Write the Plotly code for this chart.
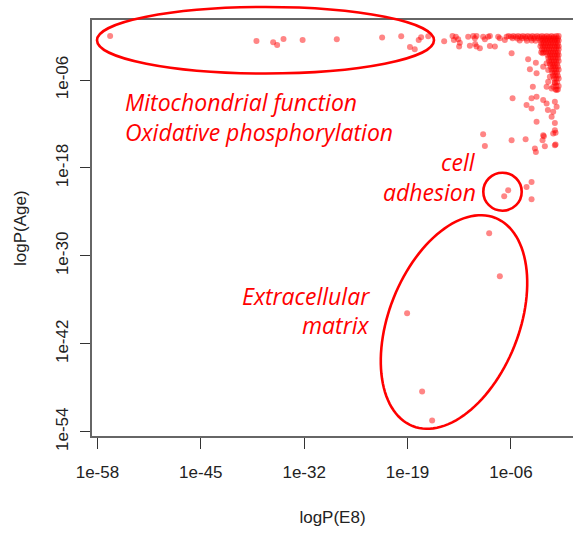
import numpy as np
import plotly.graph_objects as go

# ---------------- data (log10 p-values) ----------------
x_tick_labels = ["1e-58", "1e-45", "1e-32", "1e-19", "1e-06"]
x_tick_logs = [-58, -45, -32, -19, -6]
y_tick_labels = ["1e-54", "1e-42", "1e-30", "1e-18", "1e-06"]
y_tick_logs = [-54, -42, -30, -18, -6]

# top row: mitochondrial function / oxidative phosphorylation
top_e8 = [-56.4, -38.0, -35.9, -35.4, -34.6, -32.2, -27.9, -22.2, -19.8, -18.7, -18.1, -17.6, -17.3, -16.4]
top_age = [0.0, -0.66, -0.84, -1.21, -0.39, -0.53, -0.43, -0.21, -0.02, -1.49, -1.81, -0.53, -0.16, -0.02]

# row of points continuing to the right along the top
row_e8 = [-14.4, -13.35, -12.93, -13.18, -12.64, -12.43, -12.52, -11.38, -11.17, -10.75,
          -10.54, -10.33, -10.5, -10.33, -9.91, -9.5, -9.28, -8.87, -8.65, -8.65,
          -8.02, -7.61, -7.4, -6.77, -6.55]
row_age = [-0.71, 0.0, -0.08, -0.53, -0.43, -0.9, -1.44, -0.08, -1.31, 0.0,
           -0.3, 0.0, -1.08, -1.44, -1.66, -0.08, -0.43, -0.08, 0.0, -1.35,
           -1.44, -0.08, -0.3, -0.53, -0.08]

# scattered points in the upper-right region
mid_e8 = [-5.92, -3.84, -3.62, -2.87, -2.78, -2.03, -1.95, -1.52, -1.32, -1.11,
          -1.52, -1.32, -0.89, -0.69, -0.26, -0.48, -5.80, -3.25, -3.41, -2.78,
          -4.04, -3.41, -1.95, -1.52, -1.36, -0.48, -0.26, -0.69, -0.89, -2.78,
          -0.48, -0.48, -0.69, -9.50, -9.28, -5.92, -4.16, -1.95, -1.86, -2.03,
          -1.74, -0.39, -0.39, -2.87, -2.99, -0.48, -3.41, -4.04, -3.41]
mid_age = [-2.35, -3.17, -4.54, -3.63, -5.08, -2.35, -4.18, -3.72, -4.63, -5.55,
           -6.92, -6.23, -7.14, -6.92, -7.37, -6.45, -8.50, -6.92, -8.50, -8.28,
           -9.42, -9.87, -8.74, -9.19, -10.10, -8.97, -9.65, -10.34, -11.02, -11.70,
           -11.88, -12.84, -13.29, -13.39, -14.99, -14.21, -14.07, -13.52, -13.66, -14.21,
           -15.03, -13.21, -14.80, -15.81, -15.34, -14.89, -19.91, -20.60, -22.28]

# cell adhesion
adh_e8 = [-6.35, -6.85]
adh_age = [-21.05, -21.87]

# extracellular matrix
ecm_e8 = [-8.74, -7.40, -19.06, -17.17, -15.91]
ecm_age = [-26.89, -32.77, -37.83, -48.50, -52.47]

# dense cluster near p = 1 (top-right corner)
dense_e8 = [
    -6.3, -6.0, -5.7, -5.4, -5.1, -4.8, -4.5, -4.2, -3.9, -3.6, -3.3, -3.0, -2.7, -2.4, -2.1, -1.8, -1.5, -1.2, -0.9, -0.6, -0.3, 0.0,
    -5.8, -5.2, -4.6, -4.1, -3.5, -3.1, -2.6, -2.2, -1.9, -1.6, -1.3, -1.0, -0.7, -0.4, -0.1,
    -4.9, -4.0, -3.4, -2.9, -2.3, -2.0, -1.7, -1.4, -1.1, -0.8, -0.5, -0.2, 0.0,
    -2.2, -1.9, -1.6, -1.3, -1.0, -0.7, -0.4, -0.1,
    -2.3, -2.0, -1.7, -1.4, -1.1, -0.8, -0.5, -0.2, 0.0,
    -2.1, -1.8, -1.5, -1.2, -0.9, -0.6, -0.3, 0.0,
    -2.2, -1.9, -1.6, -1.3, -1.0, -0.7, -0.4, -0.1,
    -1.4, -1.1, -0.8, -0.5, -0.2, 0.0,
    -1.3, -1.0, -0.7, -0.4, -0.1,
    -1.2, -0.9, -0.6, -0.3, 0.0,
    -1.1, -0.8, -0.5, -0.2,
    -1.0, -0.7, -0.4, -0.1,
    -0.9, -0.6, -0.3, 0.0,
    -0.8, -0.5, -0.2,
    -0.7, -0.4, -0.1,
    -0.6, -0.3, 0.0,
    -0.5, -0.2,
    -0.3, 0.0,
    -0.4, -0.1,
]
dense_age = [
    0.0, -0.1, 0.0, -0.1, 0.0, -0.1, 0.0, -0.1, 0.0, -0.1, 0.0, -0.1, 0.0, -0.1, 0.0, -0.1, 0.0, -0.1, 0.0, -0.1, 0.0, 0.0,
    -0.3, -0.35, -0.3, -0.35, -0.3, -0.35, -0.3, -0.35, -0.3, -0.35, -0.3, -0.35, -0.3, -0.35, -0.3,
    -0.6, -0.65, -0.6, -0.65, -0.6, -0.65, -0.6, -0.65, -0.6, -0.65, -0.6, -0.65, -0.6,
    -1.0, -1.0, -1.0, -1.0, -1.0, -1.0, -1.0, -1.0,
    -1.4, -1.4, -1.4, -1.4, -1.4, -1.4, -1.4, -1.4, -1.4,
    -1.8, -1.8, -1.8, -1.8, -1.8, -1.8, -1.8, -1.8,
    -2.2, -2.2, -2.2, -2.2, -2.2, -2.2, -2.2, -2.2,
    -2.6, -2.6, -2.6, -2.6, -2.6, -2.6,
    -3.0, -3.0, -3.0, -3.0, -3.0,
    -3.4, -3.4, -3.4, -3.4, -3.4,
    -3.8, -3.8, -3.8, -3.8,
    -4.2, -4.2, -4.2, -4.2,
    -4.6, -4.6, -4.6, -4.6,
    -5.0, -5.0, -5.0,
    -5.4, -5.4, -5.4,
    -5.8, -5.8, -5.8,
    -6.3, -6.3,
    -6.8, -6.8,
    -7.3, -7.3,
]

all_e8 = top_e8 + row_e8 + mid_e8 + adh_e8 + ecm_e8 + dense_e8
all_age = top_age + row_age + mid_age + adh_age + ecm_age + dense_age

# ---------------- layout geometry ----------------
W, H = 573, 534
ML, MR, MT, MB = 92, 0, 20, 98
X_RANGE = [-58.68, 1.80]
Y_RANGE = [-54.57, 2.19]
PW, PH = W - ML - MR, H - MT - MB


def px2paper(px, py):
    return (px - ML) / PW, (H - MB - py) / PH


fig = go.Figure()
fig.add_trace(go.Scatter(
    x=np.power(10.0, all_e8), y=np.power(10.0, all_age),
    mode="markers",
    marker=dict(size=6, color="rgba(255,0,0,0.48)", line=dict(width=0)),
    hoverinfo="skip", showlegend=False,
))

axis_font = dict(family="Liberation Sans, Arial, sans-serif", size=17, color="#222")
red = "#ff0000"

shapes = []
# top ellipse
x0, y0 = px2paper(97, 73.5)
x1, y1 = px2paper(434, 7)
shapes.append(dict(type="circle", xref="paper", yref="paper", x0=x0, y0=y0, x1=x1, y1=y1,
                   line=dict(color=red, width=2.6)))
# cell adhesion circle
x0, y0 = px2paper(483.3, 210.7)
x1, y1 = px2paper(521.7, 172.7)
shapes.append(dict(type="circle", xref="paper", yref="paper", x0=x0, y0=y0, x1=x1, y1=y1,
                   line=dict(color=red, width=2.6)))
# tilted ECM ellipse
cx, cy, a, b, th = 454.0, 322.0, 112.0, 65.0, np.radians(21.7)
t = np.linspace(0, 2 * np.pi, 121)
u, v = a * np.cos(t), b * np.sin(t)
pxs = cx + u * np.sin(th) + v * np.cos(th)
pys = cy - u * np.cos(th) + v * np.sin(th)
pts = [px2paper(p, q) for p, q in zip(pxs, pys)]
path = "M " + " L ".join(f"{p:.5f},{q:.5f}" for p, q in pts) + " Z"
shapes.append(dict(type="path", xref="paper", yref="paper", path=path,
                   line=dict(color=red, width=2.6)))

ann_font = dict(family="Open Sans, Noto Sans, sans-serif", size=23, color=red)
annotations = []


def add_text(text, px, py, anchor):
    xp, yp = px2paper(px, py)
    annotations.append(dict(text=f"<i>{text}</i>", x=xp, y=yp, xref="paper", yref="paper",
                            xanchor=anchor, yanchor="middle", showarrow=False, font=ann_font))


add_text("Mitochondrial function", 123, 101.7, "left")
add_text("Oxidative phosphorylation", 123, 131.7, "left")
add_text("cell", 478, 161.7, "right")
add_text("adhesion", 478, 191.7, "right")
add_text("Extracellular", 372, 296, "right")
add_text("matrix", 372, 325, "right")

# y axis title placed as rotated text left of the tick labels
yt_x, yt_y = px2paper(20, 228)
annotations.append(dict(text="logP(Age)", x=yt_x, y=yt_y, xref="paper", yref="paper",
                        xanchor="center", yanchor="middle", textangle=-90,
                        showarrow=False, font=axis_font))

fig.update_layout(
    width=W, height=H,
    margin=dict(l=ML, r=MR, t=MT, b=MB, pad=0),
    paper_bgcolor="white", plot_bgcolor="white",
    shapes=shapes, annotations=annotations,
    xaxis=dict(
        type="log", range=X_RANGE,
        tickvals=[10.0 ** k for k in x_tick_logs], ticktext=x_tick_labels,
        ticks="outside", ticklen=11, tickwidth=1.3, tickcolor="#333",
        showline=True, linecolor="#666", linewidth=1.6, mirror=True,
        showgrid=False, zeroline=False, tickfont=axis_font,
        ticklabelstandoff=9,
        title=dict(text="logP(E8)", font=axis_font, standoff=30),
    ),
    yaxis=dict(
        type="log", range=Y_RANGE,
        tickvals=[10.0 ** k for k in y_tick_logs], ticktext=y_tick_labels,
        ticks="outside", ticklen=10, tickwidth=1.3, tickcolor="#333",
        showline=True, linecolor="#666", linewidth=1.6, mirror=False,
        showgrid=False, zeroline=False, tickfont=axis_font, tickangle=-90,
        ticklabelstandoff=5,
    ),
)

fig.write_html("out.html")
